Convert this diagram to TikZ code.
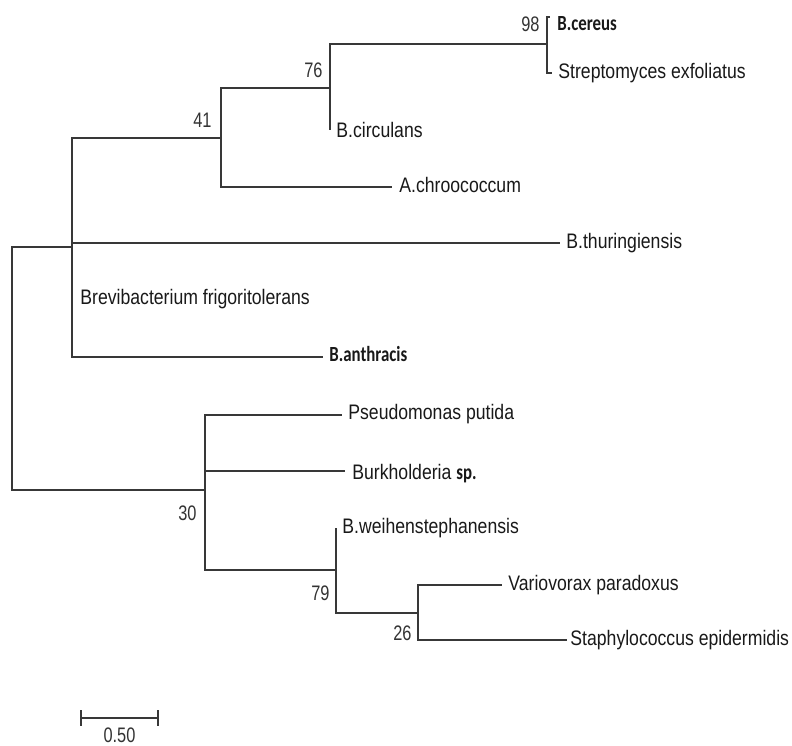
\documentclass[tikz,border=0pt]{standalone}
\usepackage{fontspec}
\setmainfont{Liberation Sans}[FakeStretch=0.84]
\newfontfamily\calibold{Carlito}[FakeStretch=0.78]
\newfontfamily\bsfont{Liberation Sans}[FakeStretch=0.78]
\usepackage{tikz}
\usetikzlibrary{calc}
\tikzset{
  treeline/.style={draw=black!78, line width=1.05pt},
  leaflab/.style={anchor=west, inner sep=0pt, text=black!90, font=\fontsize{10.5}{12}\selectfont,
    text height=0.72em, text depth=0.21em},
  leafbold/.style={leaflab, font={\fontsize{10.8}{12}\selectfont\calibold\bfseries}},
  bsval/.style={anchor=east, inner sep=0pt, text=black!80, font={\fontsize{10.5}{12}\selectfont\bsfont}},
}

\begin{document}
\begin{tikzpicture}[x=0.5pt, y=-0.5pt]
  \useasboundingbox[fill=white] (0,0) rectangle (792,745);
  % inner nodes
  \coordinate (root) at (12,368);
  \coordinate (nA) at (72,247);
  \coordinate (n41) at (221,138);
  \coordinate (n76) at (330,88);
  \coordinate (n98) at (547,44);
  \coordinate (n30) at (205,490);
  \coordinate (n79) at (336,570);
  \coordinate (n26) at (418,613);
  % tips
  \coordinate (cereus) at (550,17);
  \coordinate (strep) at (552,73);
  \coordinate (circ) at (330,130);
  \coordinate (chroo) at (392,187);
  \coordinate (thur) at (560,243);
  \coordinate (brevi) at (72,298);
  \coordinate (anthr) at (323,357);
  \coordinate (pseudo) at (342,415);
  \coordinate (burk) at (345,471);
  \coordinate (weihen) at (336,528);
  \coordinate (vario) at (502,585);
  \coordinate (staph) at (567,640);

  \draw[treeline] (nA) -| (root) |- (n30);
  \foreach \a/\b in {nA/n41, nA/thur, nA/anthr, n41/n76, n41/chroo, n76/n98, n76/circ,
      n98/cereus, n98/strep, n30/pseudo, n30/burk, n30/n79, n79/weihen, n79/n26,
      n26/vario, n26/staph}
    \draw[treeline] (\a) |- (\b);

  \node[leafbold] (lcereus) at (557,25) {B.cereus};
  \node[leaflab] (lstrep) at (558,73.5) {Streptomyces exfoliatus};
  \node[leaflab] (lcirc) at (336,132) {B.circulans};
  \node[leaflab] (lchroo) at (399,187) {A.chroococcum};
  \node[leaflab] (lthur) at (566,243.5) {B.thuringiensis};
  \node[leaflab] (lbrevi) at (80,299.5) {Brevibacterium frigoritolerans};
  \node[leafbold] (lanthr) at (329,356) {B.anthracis};
  \node[leaflab] (lpseudo) at (348,414) {Pseudomonas putida};
  \node[leaflab] (lburk) at (352,474) {Burkholderia {\fontsize{10.8}{12}\selectfont\calibold\bfseries sp.}};
  \node[leaflab] (lweihen) at (342,528.5) {B.weihenstephanensis};
  \node[leaflab] (lvario) at (508,585) {Variovorax paradoxus};
  \node[leaflab] (lstaph) at (570,640) {Staphylococcus epidermidis};

  \node[bsval] (b98) at ([xshift=-3.5pt,yshift=10pt]n98) {98};
  \node[bsval] (b76) at ([xshift=-3.5pt,yshift=9pt]n76) {76};
  \node[bsval] (b41) at ([xshift=-4.5pt,yshift=9pt]n41) {41};
  \node[bsval] (b30) at ([xshift=-4pt,yshift=-11.5pt]n30) {30};
  \node[bsval] (b79) at ([xshift=-3pt,yshift=-11.5pt]n79) {79};
  \node[bsval] (b26) at ([xshift=-3pt,yshift=-10pt]n26) {26};

  % scale bar
  \coordinate (sbl) at (81,718);
  \coordinate (sbr) at (158,718);
  \draw[treeline] (sbl) -- (sbr);
  \draw[treeline] ([yshift=4pt]sbl) -- ([yshift=-4pt]sbl);
  \draw[treeline] ([yshift=4pt]sbr) -- ([yshift=-4pt]sbr);
  \node[bsval, anchor=center] (sblab) at (119.5,735) {0.50};
\end{tikzpicture}
\end{document}
